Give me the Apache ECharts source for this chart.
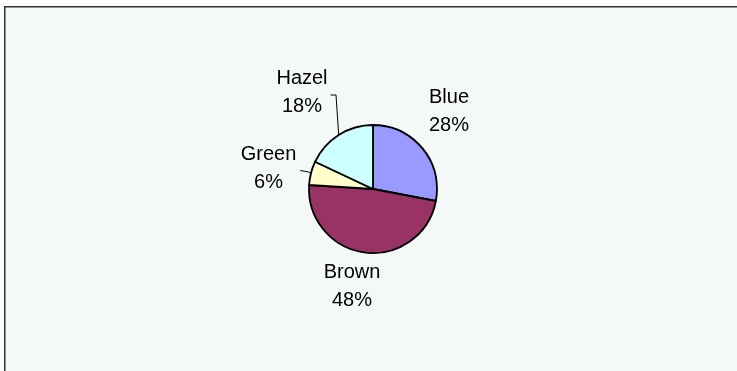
<!DOCTYPE html>
<html><head><meta charset="utf-8">
<script src="https://cdn.jsdelivr.net/npm/echarts@6/dist/echarts.min.js"></script>
<style>html,body{margin:0;padding:0;background:#fff}#c{width:737px;height:371px}</style>
</head><body><div id="c"></div>
<script>
// Data
const categories = ['Blue', 'Brown', 'Green', 'Hazel'];
const percents = [28, 48, 6, 18];

// Styles / layout (kept separate from data)
const colors = ['#9999FF', '#993366', '#FFFFCC', '#CCFFFF'];
const labelCenters = { Blue: [449, 111.5], Brown: [352, 286], Green: [268.5, 168], Hazel: [302, 92] };
const leaderStyle = {
  Green: { endDx: 4, endDy: 2.5, elbow: [-2, -1] },
  Hazel: { endDx: 3, endDy: 3, elbow: [-2.7, null] }
};

const chart = echarts.init(document.getElementById('c'), null, { renderer: 'canvas' });
const pieCenter = [373, 189];
const pieRadius = 64;

chart.setOption({
  animation: false,
  backgroundColor: '#ffffff',
  graphic: [{
    type: 'rect', z: -10, silent: true,
    shape: { x: 4.75, y: 6.75, width: 760, height: 400 },
    style: { fill: '#F4F9F7', stroke: '#333333', lineWidth: 1.5 }
  }],
  series: [{
    type: 'pie',
    center: pieCenter,
    radius: pieRadius,
    startAngle: 90,
    clockwise: true,
    avoidLabelOverlap: false,
    data: categories.map((n, i) => ({
      name: n,
      value: percents[i],
      itemStyle: { color: colors[i] },
      labelLine: { show: !!leaderStyle[n] }
    })),
    itemStyle: { borderColor: '#000', borderWidth: 1.8 },
    label: {
      show: true,
      position: 'outside',
      formatter: '{b}\n{c}%',
      fontFamily: 'Liberation Sans, Arial, sans-serif',
      fontSize: 20,
      lineHeight: 28,
      color: '#000',
      align: 'center'
    },
    labelLine: { length: 10, length2: 10, lineStyle: { color: '#000', width: 1 } },
    emphasis: { disabled: true },
    labelLayout: function (p) {
      const name = categories[p.dataIndex];
      const c = labelCenters[name];
      const res = { x: c[0], y: c[1], align: 'center', verticalAlign: 'middle' };
      const ls = leaderStyle[name];
      if (ls && p.labelLinePoints) {
        const edge = p.labelLinePoints[0];
        const right = c[0] + p.labelRect.width / 2;
        const end = [right + ls.endDx, c[1] + ls.endDy];
        const elbow = [edge[0] + ls.elbow[0], ls.elbow[1] === null ? end[1] : edge[1] + ls.elbow[1]];
        res.labelLinePoints = [edge, elbow, end];
      }
      return res;
    }
  }]
});
</script>
</body></html>
